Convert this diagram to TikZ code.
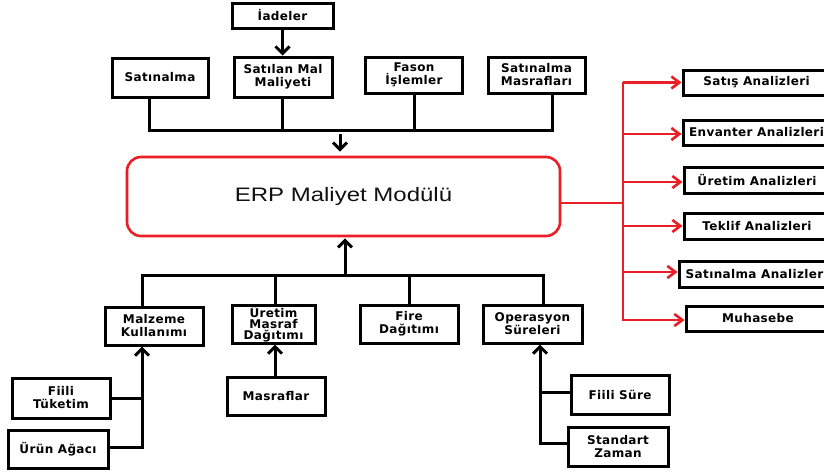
\documentclass[tikz,border=0pt]{standalone}
\usepackage{fontspec}
\setmainfont[LetterSpace=3]{DejaVu Sans}
\newfontfamily\erpfont[FakeStretch=1.23]{Liberation Sans}
\usetikzlibrary{arrows.meta}
\definecolor{erpred}{RGB}{234,30,38}
\definecolor{ink}{RGB}{17,17,17}
\begin{document}
\begin{tikzpicture}[x=1pt,y=-1pt,
  box/.style={draw=black,line width=3pt,inner sep=0pt,align=center,
    font=\fontsize{12}{13}\selectfont\bfseries},
  tight/.style={font=\fontsize{12}{11}\selectfont\bfseries},
  wire/.style={line width=3pt,black},
  feed/.style={wire,-{Straight Barb[length=7pt,width=14pt]}},
  redwire/.style={line width=2.6pt,erpred},
  redfeed/.style={redwire,-{Straight Barb[length=8pt,width=12pt]}},
]
\useasboundingbox (0,0) rectangle (824,472);
\clip (0,0) rectangle (824,472);
\fill[white] (0,0) rectangle (824,472);

% central module
\node[draw=erpred,line width=2.6pt,rounded corners=14pt,minimum width=433pt,
  minimum height=79pt,inner sep=0pt,text=ink,font=\erpfont\fontsize{19.5}{22}\selectfont]
  (erp) at (343.5,196.5) {\raisebox{-3pt}{ERP Maliyet Modülü}};

% inputs above the module
\node[box,minimum width=101pt,minimum height=25pt] (iade) at (282.5,15.5) {İadeler};
\node[box,minimum width=96pt,minimum height=39pt] (satin) at (160,77.5) {Satınalma};
\node[box,minimum width=98pt,minimum height=40pt] (satilan) at (283,77) {Satılan Mal\\Maliyeti};
\node[box,minimum width=97pt,minimum height=36pt] (fason) at (414,75) {Fason\\İşlemler};
\node[box,minimum width=97pt,minimum height=36pt] (smasraf) at (536.5,75) {Satınalma\\Masrafları};

\coordinate (tbusL) at (149,130);
\coordinate (tbusR) at (552,130);
\coordinate (topin) at (340,134);

\draw[feed] (iade.south) -- (satilan.north -| iade.south);
\draw[wire] (satin.south -| tbusL) -- (tbusL) -- (tbusR) -- (smasraf.south -| tbusR);
\draw[wire] (satilan.south -| 282,0) -- (282,130);
\draw[wire] (fason.south) -- (fason.south |- tbusL);
\draw[feed,shorten >=4pt] (topin) -- (erp.north -| topin);

% inputs below the module
\node[box,minimum width=98pt,minimum height=38pt] (malz) at (154,326) {Malzeme\\Kullanımı};
\node[box,tight,minimum width=83pt,minimum height=38pt] (uretim) at (273.5,324) {Üretim\\Masraf\\Dağıtımı};
\node[box,minimum width=98pt,minimum height=38pt] (fire) at (409,324) {Fire\\Dağıtımı};
\node[box,minimum width=99pt,minimum height=38pt] (oper) at (532.5,324) {Operasyon\\Süreleri};

\node[box,minimum width=98pt,minimum height=40pt] (fiili) at (61,398) {Fiili\\Tüketim};
\node[box,minimum width=100pt,minimum height=38pt] (urun) at (58,449) {Ürün Ağacı};
\node[box,minimum width=98pt,minimum height=38pt] (masraf) at (276,396) {Masraflar};
\node[box,minimum width=98pt,minimum height=39pt] (fsure) at (620,394.5) {Fiili Süre};
\node[box,minimum width=100pt,minimum height=39pt] (std) at (618,446.5) {Standart\\Zaman};

\coordinate (bbusL) at (142,275);
\coordinate (bbusR) at (543,275);
\coordinate (botout) at (345,275);
\coordinate (mk) at (142,447);
\coordinate (ok) at (540,443);

\draw[wire] (malz.north -| bbusL) -- (bbusL) -- (bbusR) -- (oper.north -| bbusR);
\draw[wire] (uretim.north -| 275,0) -- (275,275);
\draw[wire] (fire.north) -- (fire.north |- bbusL);
\draw[feed,shorten >=1pt] (botout) -- (erp.south -| botout);

\draw[feed] (urun.east |- mk) -- (mk) -- (malz.south -| mk);
\draw[wire] (fiili.east) -- (fiili.east -| mk);
\draw[feed] (masraf.north -| 275,0) -- (uretim.south -| 275,0);
\draw[feed] (std.west |- ok) -- (ok) -- (oper.south -| ok);
\draw[wire] (fsure.west |- 0,392) -- (540,392);

% analyses fed by the module
\node[box,minimum width=147pt,minimum height=25pt] (satis) at (756.5,82.5) {Satış Analizleri};
\node[box,minimum width=147pt,minimum height=25pt] (envanter) at (756.5,132.5) {Envanter Analizleri};
\node[box,minimum width=146pt,minimum height=26pt] (uretimA) at (757,180) {Üretim Analizleri};
\node[box,minimum width=146pt,minimum height=26pt] (teklif) at (757,226) {Teklif Analizleri};
\node[box,minimum width=151pt,minimum height=26pt] (satinA) at (754.5,274) {Satınalma Analizler};
\node[box,minimum width=144pt,minimum height=25pt] (muh) at (758,318.5) {Muhasebe};

\coordinate (rj) at (623,203);
\draw[redwire] (erp.east |- rj) -- (rj);
\draw[redwire] (623,82) -- (623,321);
\draw[redfeed] (satis.west -| rj) -- (satis.west);
\draw[redfeed] (rj |- 0,134) -- (envanter.west |- 0,134);
\draw[redfeed] (rj |- 0,182) -- (uretimA.west |- 0,182);
\draw[redfeed] (rj |- teklif.west) -- (teklif.west);
\draw[redfeed] (rj |- 0,272) -- (satinA.west |- 0,272);
\draw[redfeed] (rj |- 0,320) -- (muh.west |- 0,320);
\end{tikzpicture}
\end{document}
